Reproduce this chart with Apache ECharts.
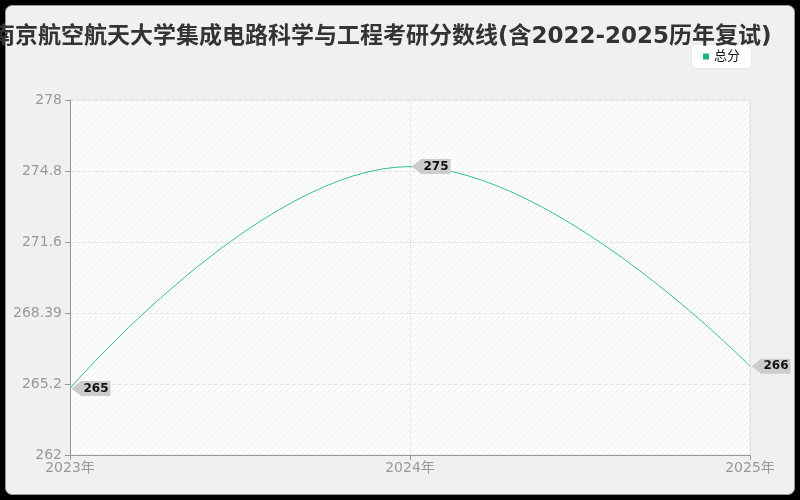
<!DOCTYPE html>
<html>
<head>
<meta charset="utf-8">
<script src="https://cdn.jsdelivr.net/npm/echarts@6/dist/echarts.min.js"></script>
<style>
html,body{margin:0;padding:0;background:#000;width:800px;height:500px;overflow:hidden;}
#frame{position:absolute;left:5px;top:5px;width:788px;height:488px;border:1px solid #9a9a9a;border-radius:7px;background:#f0f0f0;box-sizing:content-box;}
#chart{position:absolute;left:0;top:0;width:800px;height:500px;}
</style>
</head>
<body>
<div id="frame"></div>
<div id="chart"></div>
<script>
const titleText = '南京航空航天大学集成电路科学与工程考研分数线(含2022-2025历年复试)';
const seriesName = '总分';
const categories = ['2023年', '2024年', '2025年'];
const scores = [265, 275, 266];
const yTickLabels = ['262', '265.2', '268.39', '271.6', '274.8', '278'];
const yMin = 262, yMax = 278, yInterval = 3.2;

const FONT = "'DejaVu Sans', 'Noto Sans CJK SC', sans-serif";

const pc = document.createElement('canvas');
pc.width = 6; pc.height = 6;
const g = pc.getContext('2d');
g.fillStyle = '#fdfdfd';
g.fillRect(0, 0, 6, 6);
g.strokeStyle = 'rgba(0,0,0,0.06)';
g.lineWidth = 1;
g.beginPath();
g.moveTo(0, 6); g.lineTo(6, 0);
g.moveTo(-3, 3); g.lineTo(3, -3);
g.moveTo(3, 9); g.lineTo(9, 3);
g.stroke();

const chart = echarts.init(document.getElementById('chart'), null, {renderer: 'canvas'});
chart.setOption({
  backgroundColor: 'transparent',
  animation: false,
  title: {
    text: titleText,
    left: -13,
    top: 21,
    textStyle: {fontSize: 23, fontWeight: 'bold', color: '#333', fontFamily: FONT}
  },
  legend: {
    data: [seriesName],
    right: 49,
    top: 45,
    backgroundColor: '#ffffff',
    borderRadius: 4,
    padding: [5, 11, 5, 11],
    itemWidth: 6,
    itemHeight: 6,
    itemGap: 6,
    shadowColor: 'rgba(0,0,0,0.08)',
    shadowBlur: 3,
    textStyle: {fontSize: 13, color: '#111', fontFamily: FONT},
    icon: 'rect'
  },
  grid: {
    left: 70, right: 50, top: 100, bottom: 45,
    show: true,
    backgroundColor: {image: pc, repeat: 'repeat'},
    borderColor: '#e4e4e4',
    borderWidth: 1
  },
  xAxis: {
    type: 'category',
    data: categories,
    boundaryGap: false,
    axisLine: {lineStyle: {color: '#999'}},
    axisTick: {lineStyle: {color: '#999'}},
    axisLabel: {color: '#999', fontSize: 14, margin: 6, fontFamily: FONT},
    splitLine: {show: true, lineStyle: {type: 'dashed', color: '#e3e3e3'}}
  },
  yAxis: {
    type: 'value',
    min: yMin,
    max: yMax,
    interval: yInterval,
    axisLine: {show: true, lineStyle: {color: '#999'}},
    axisTick: {show: true, lineStyle: {color: '#999'}},
    axisLabel: {
      color: '#999', fontSize: 14, margin: 8, fontFamily: FONT,
      formatter: function (v) {
        const i = Math.round((v - yMin) / yInterval);
        return yTickLabels[i] !== undefined ? yTickLabels[i] : String(v);
      }
    },
    splitLine: {show: true, lineStyle: {type: 'dashed', color: '#e3e3e3'}}
  },
  series: [{
    name: seriesName,
    type: 'line',
    data: scores,
    smooth: 0.43,
    symbol: 'none',
    itemStyle: {color: '#1db382'},
    lineStyle: {color: '#33c190', width: 1},
    markPoint: {
      silent: true,
      symbol: 'path://M0,7.5 L10,0 L40,0 L40,15 L10,15 Z',
      symbolSize: [39, 15],
      symbolKeepAspect: false,
      symbolOffset: [21, 0],
      itemStyle: {color: '#cccccc'},
      label: {
        show: true, position: 'inside', offset: [5, 0],
        color: '#111', fontSize: 12, fontWeight: 'bold', fontFamily: FONT,
        formatter: function (p) { return String(p.value); }
      },
      data: scores.map(function (v, i) { return {coord: [i, v], value: v}; })
    }
  }]
});
</script>
</body>
</html>
